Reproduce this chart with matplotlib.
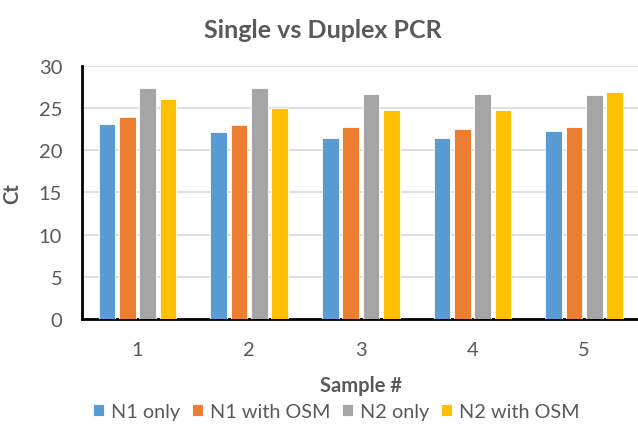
import matplotlib
matplotlib.use("Agg")
import matplotlib.pyplot as plt
import numpy as np

plt.rcParams['font.family'] = ['Lato', 'DejaVu Sans']

samples = ["1", "2", "3", "4", "5"]
series_names = ["N1 only", "N1 with OSM", "N2 only", "N2 with OSM"]
n1_only = [23.1, 22.2, 21.45, 21.45, 22.3]
n1_osm = [23.9, 23.0, 22.7, 22.5, 22.7]
n2_only = [27.4, 27.3, 26.6, 26.6, 26.5]
n2_osm = [26.0, 25.0, 24.7, 24.8, 26.9]
colors = ["#5B9BD5", "#ED7D31", "#A5A5A5", "#FFC000"]
yticks = [0, 5, 10, 15, 20, 25, 30]

fig = plt.figure(figsize=(6.38, 4.27), dpi=100)
ax = fig.add_axes([0.128, 0.250, 0.875, 0.594])

x = np.arange(len(samples))
step = 0.182
width = 0.148
for i, (vals, name, c) in enumerate(zip([n1_only, n1_osm, n2_only, n2_osm], series_names, colors)):
    ax.bar(x + (i - 1.5) * step, vals, width=width, color=c, label=name,
           edgecolor="white", linewidth=0.6, zorder=3)

ax.set_xlim(-0.5, len(samples) - 0.5)
ax.set_ylim(0, 30)
ax.set_yticks(yticks)
ax.set_xticks(x)
ax.set_xticklabels(samples)
ax.yaxis.grid(True, color="#D9D9D9", linewidth=1.2, zorder=0)
ax.set_axisbelow(True)

for s in ["top", "right"]:
    ax.spines[s].set_visible(False)
for s in ["left", "bottom"]:
    ax.spines[s].set_color("black")
    ax.spines[s].set_linewidth(2)

ax.tick_params(axis="both", length=0, labelsize=14.5, colors="#595959")
ax.tick_params(axis="x", pad=16)
ax.tick_params(axis="y", pad=14)

fig.text(0.506, 1 - 30 / 427, "Single vs Duplex PCR", fontsize=18, fontweight="bold",
         color="#595959", ha="center", va="center")
ax.set_ylabel("Ct", fontsize=14.5, fontweight="bold", color="#595959", labelpad=12)
ax.set_xlabel("Sample #", fontsize=14.5, fontweight="bold", color="#595959", labelpad=12)

leg = fig.legend(loc="center", bbox_to_anchor=(0.527, 1 - 413 / 427), ncol=4, frameon=False,
                 fontsize=14.3, handlelength=0.55, handleheight=0.55, handletextpad=0.35,
                 columnspacing=0.6, borderpad=0)
for t in leg.get_texts():
    t.set_color("#595959")

fig.savefig("out.png", dpi=100)
